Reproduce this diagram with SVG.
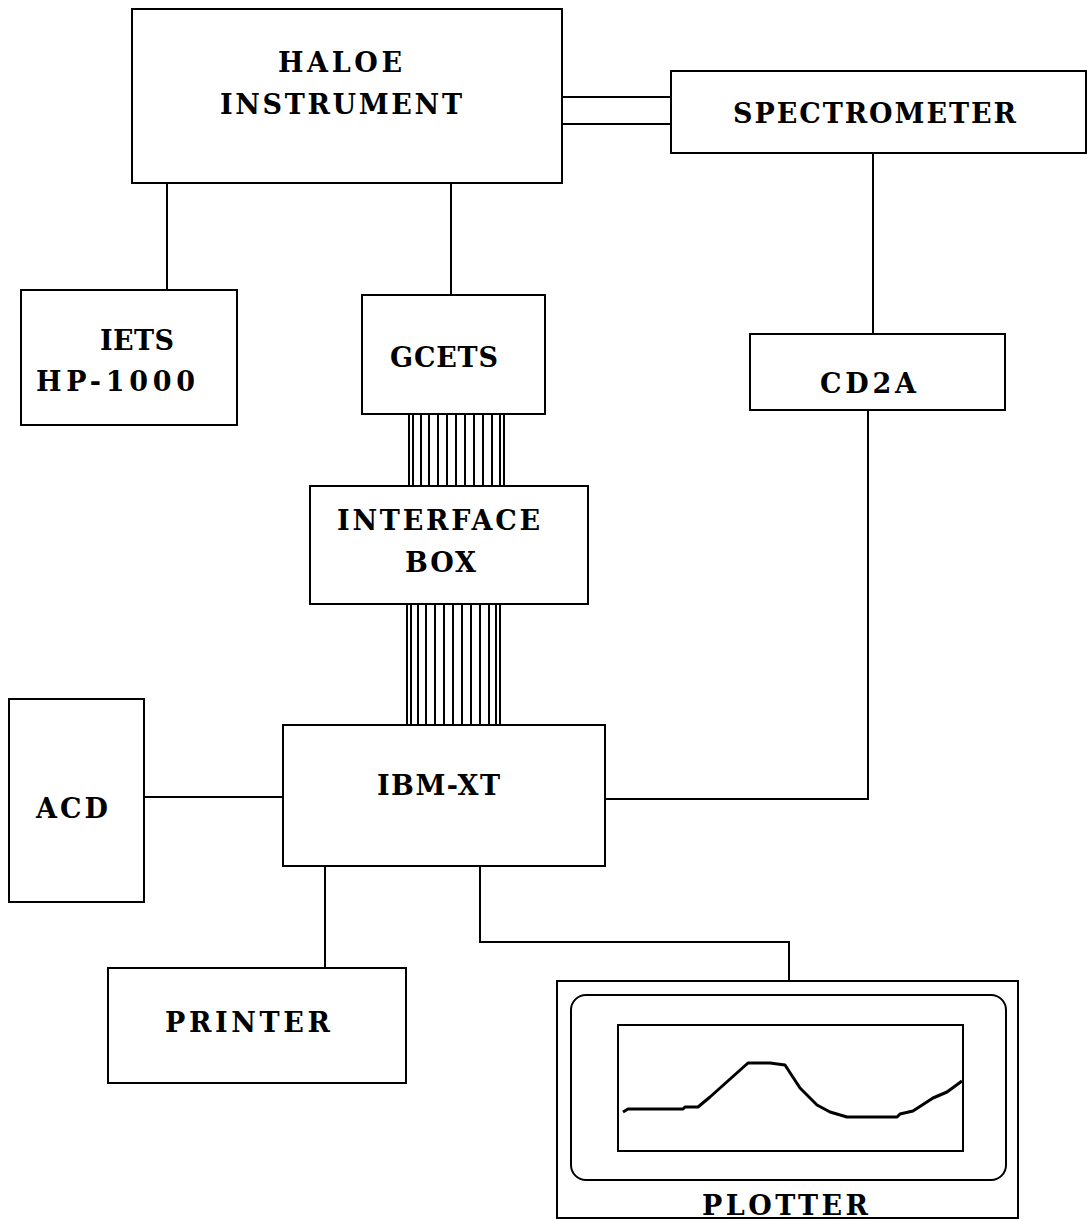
<svg xmlns="http://www.w3.org/2000/svg" width="1087" height="1219" viewBox="0 0 1087 1219">
<style>
.box{fill:#fff;stroke:#000;stroke-width:2}
.ln{fill:none;stroke:#000;stroke-width:2}
.bl{stroke:#000;stroke-width:2}
.t{font-family:"DejaVu Serif","Liberation Serif",serif;font-weight:bold;font-size:27px;fill:#000}
</style>
<rect width="1087" height="1219" fill="#fff"/>
<g id="connectors">
<path class="ln" d="M167 183V290"/>
<path class="ln" d="M451 183V295"/>
<path class="ln" d="M562 97H671M562 124H671"/>
<path class="ln" d="M873 153V334"/>
<path class="ln" d="M868 410V799H605"/>
<path class="ln" d="M144 797H283"/>
<path class="ln" d="M325 866V968"/>
<path class="ln" d="M480 866V942H789V981"/>
<g id="bundle-top" class="bl">
<path d="M409 414V486M413 414V486M421 414V486M429 414V486M438 414V486M447 414V486M456 414V486M465 414V486M474 414V486M483 414V486M492 414V486M500 414V486M504 414V486"/>
</g>
<g id="bundle-bottom" class="bl">
<path d="M407 604V725M411 604V725M418 604V725M426 604V725M435 604V725M444 604V725M453 604V725M462 604V725M471 604V725M480 604V725M489 604V725M496 604V725M500 604V725"/>
</g>
</g>
<g id="haloe">
<rect class="box" x="132" y="9" width="430" height="174"/>
<text class="t" x="278" y="72" textLength="124" lengthAdjust="spacing">HALOE</text>
<text class="t" x="220" y="114" textLength="242" lengthAdjust="spacing">INSTRUMENT</text>
</g>
<g id="spectrometer">
<rect class="box" x="671" y="71" width="415" height="82"/>
<text class="t" x="733" y="123" textLength="283" lengthAdjust="spacing">SPECTROMETER</text>
</g>
<g id="iets">
<rect class="box" x="21" y="290" width="216" height="135"/>
<text class="t" x="100" y="350" textLength="74" lengthAdjust="spacing">IETS</text>
<text class="t" x="36" y="391" textLength="159" lengthAdjust="spacing">HP-1000</text>
</g>
<g id="gcets">
<rect class="box" x="362" y="295" width="183" height="119"/>
<text class="t" x="390" y="367" textLength="108" lengthAdjust="spacing">GCETS</text>
</g>
<g id="cd2a">
<rect class="box" x="750" y="334" width="255" height="76"/>
<text class="t" x="820" y="393" textLength="96" lengthAdjust="spacing">CD2A</text>
</g>
<g id="interface-box">
<rect class="box" x="310" y="486" width="278" height="118"/>
<text class="t" x="337" y="530" textLength="203" lengthAdjust="spacing">INTERFACE</text>
<text class="t" x="405" y="572" textLength="71" lengthAdjust="spacing">BOX</text>
</g>
<g id="ibm-xt">
<rect class="box" x="283" y="725" width="322" height="141"/>
<text class="t" x="377" y="795" textLength="123" lengthAdjust="spacing">IBM-XT</text>
</g>
<g id="acd">
<rect class="box" x="9" y="699" width="135" height="203"/>
<text class="t" x="36" y="818" textLength="72" lengthAdjust="spacing">ACD</text>
</g>
<g id="printer">
<rect class="box" x="108" y="968" width="298" height="115"/>
<text class="t" x="165" y="1032" textLength="165" lengthAdjust="spacing">PRINTER</text>
</g>
<g id="plotter">
<rect class="box" x="557" y="981" width="461" height="237"/>
<rect class="box" x="571" y="995" width="435" height="185" rx="15" ry="15"/>
<rect class="box" x="618" y="1025" width="345" height="126"/>
<path fill="none" stroke="#000" stroke-width="3" stroke-linejoin="round" d="M623 1112L628 1109H683L685 1107H698L710 1097L748 1063H770L785 1065L800 1088L817 1105L830 1112L847 1117H897L900 1114L913 1111L933 1098L947 1092L962 1081"/>
<text class="t" x="702" y="1215" textLength="166" lengthAdjust="spacing">PLOTTER</text>
</g>
</svg>
